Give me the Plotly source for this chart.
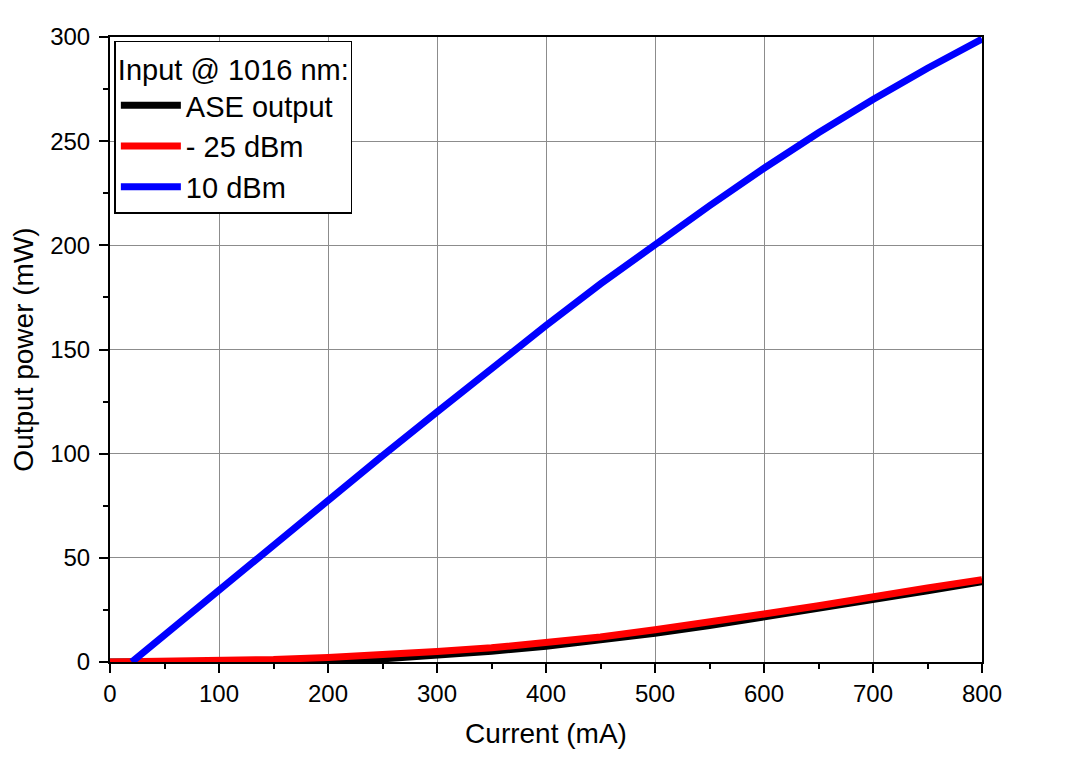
import plotly.graph_objects as go

# current (mA) and output power (mW)
current = [0, 50, 100, 150, 200, 250, 300, 350, 400, 450, 500, 550, 600, 650, 700, 750, 800]
ase_output = [0, 0, 0, 0, 0.3, 1.5, 3.2, 5.2, 7.5, 10.3, 13.8, 17.5, 21.5, 25.7, 30, 34.2, 38.5]
minus25_dbm = [0, 0.2, 0.6, 1.2, 2.2, 3.4, 5, 6.8, 9, 12, 15.5, 19, 23, 27, 31.5, 35.5, 39.5]

current_10dbm = [20, 50, 100, 150, 200, 250, 300, 350, 400, 450, 500, 550, 600, 650, 700, 750, 800]
plus10_dbm = [0, 13, 34.5, 56, 77.5, 99, 120, 141, 161.5, 181.5, 200.5, 219, 237, 254, 270, 285, 299]

x_ticks = [0, 100, 200, 300, 400, 500, 600, 700, 800]
y_ticks = [0, 50, 100, 150, 200, 250, 300]

fig = go.Figure()
fig.add_trace(go.Scatter(x=current, y=ase_output, name="ASE output",
                         mode="lines", line=dict(color="black", width=7)))
fig.add_trace(go.Scatter(x=current, y=minus25_dbm, name="- 25 dBm",
                         mode="lines", line=dict(color="#ff0000", width=7)))
fig.add_trace(go.Scatter(x=current_10dbm, y=plus10_dbm, name="10 dBm",
                         mode="lines", line=dict(color="#0000ff", width=7)))

axis_style = dict(
    showline=True, linecolor="black", linewidth=2, mirror=True,
    ticks="outside", ticklen=9, tickwidth=2, tickcolor="black",
    showgrid=True, gridcolor="#8c8c8c", gridwidth=1,
    zeroline=False, tickfont=dict(size=24, color="black"),
    automargin=False,
    minor=dict(ticks="outside", ticklen=5, tickwidth=2, tickcolor="black", showgrid=False),
)

fig.update_xaxes(range=[0, 800], tickvals=x_ticks,
                 title=dict(text="Current (mA)", font=dict(size=28, color="black"), standoff=18),
                 **axis_style)
fig.update_yaxes(range=[0, 300], tickvals=y_ticks, ticklabelstandoff=4,
                 title=dict(text="Output power (mW)", font=dict(size=28, color="black"), standoff=22),
                 **axis_style)
fig.update_xaxes(minor_dtick=50, minor_tick0=0)
fig.update_yaxes(minor_dtick=25, minor_tick0=0)

# page body has an 8 px margin, so the figure is shrunk and shifted to match
fig.update_layout(
    width=1075, height=746,
    margin=dict(l=102, r=101, t=29, b=92),
    paper_bgcolor="white", plot_bgcolor="white",
    font=dict(family="Liberation Sans, Arial, sans-serif", color="black"),
    legend=dict(
        title=dict(text="Input @ 1016 nm:", font=dict(size=29)),
        font=dict(size=29),
        x=0.005, y=0.994, xanchor="left", yanchor="top",
        bordercolor="black", borderwidth=1.5, bgcolor="white",
        tracegroupgap=0, itemwidth=60,
    ),
)

fig.write_html("out.html")
